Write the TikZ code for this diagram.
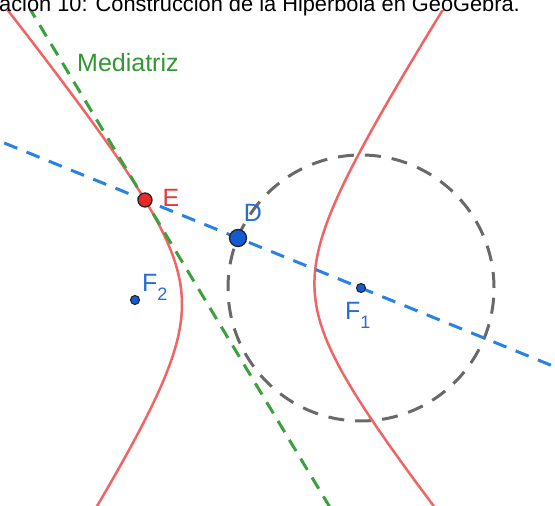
\documentclass[tikz,border=0pt]{standalone}
\usepackage{fontspec}
\setmainfont{Liberation Sans}
\usetikzlibrary{calc}
\definecolor{hypred}{RGB}{240,100,100}
\definecolor{medgreen}{RGB}{60,160,60}
\definecolor{lineblue}{RGB}{40,130,230}
\definecolor{circgray}{RGB}{105,105,105}
\definecolor{labred}{RGB}{225,60,60}
\definecolor{labblue}{RGB}{40,110,210}
\definecolor{labgreen}{RGB}{50,150,50}
\definecolor{ptblue}{RGB}{20,90,210}
\definecolor{ptred}{RGB}{235,40,40}
\tikzset{
  dashline/.style={line width=3pt, dash pattern=on 14pt off 10pt},
  hyp/.style={hypred, line width=2.5pt},
  ptsmall/.style={circle, fill=ptblue, draw=black!85, line width=1.1pt, inner sep=0pt, minimum size=9pt},
  ptbig/.style={circle, draw=black!85, line width=1.3pt, inner sep=0pt, minimum size=15pt},
  lab/.style={inner sep=0pt, font=\fontsize{25}{28}\selectfont},
}
\begin{document}
\begin{tikzpicture}[x=1pt,y=1pt]
\useasboundingbox (0,0) rectangle (555,506);
% points
\coordinate (F1) at (361,218);
\coordinate (F2) at (135,206);
\coordinate (D) at (238,268);
\coordinate (E) at (145,306);
\coordinate (M) at ($(D)!0.5!(F2)$);
\coordinate (g1) at ($(M)!5.1!90:(D)$);
\coordinate (g2) at ($(M)!-4.7!90:(D)$);
\coordinate (b1) at ($(F1)!2.9!(D)$);
\coordinate (b2) at ($(D)!2.7!(F1)$);
\begin{scope}
\clip (0,0) rectangle (555,495);
% circle
\draw[circgray, dashline, dash pattern=on 16pt off 11pt] (F1) circle[radius=133];
% hyperbola
\begin{scope}[shift={(248.2,212)}, rotate=3.04]
  \draw[hyp] plot[domain=-2.2:2.2, samples=120, smooth] ({-66.5*cosh(\x)}, {91.6*sinh(\x)});
  \draw[hyp] plot[domain=-2.2:2.2, samples=120, smooth] ({66.5*cosh(\x)}, {91.6*sinh(\x)});
\end{scope}
% perpendicular bisector
\draw[medgreen, dashline, dash pattern=on 13pt off 9pt] (g1) -- (g2);
% line through F1 and D
\draw[lineblue, dashline] (b1) -- (b2);
\end{scope}
% point markers
\node[ptsmall] (pF1) at (F1) {};
\node[ptsmall] (pF2) at (F2) {};
\node[ptbig, fill=ptblue, minimum size=17pt] (pD) at (D) {};
\node[ptbig, fill=ptred, minimum size=14pt] (pE) at (E) {};
% labels
\node[lab, text=labred] (lE) at (171,308) {E};
\node[lab, text=labblue] (lD) at (253,293) {D};
\node[lab, text=labblue, anchor=base west] (lF2) at (142,214) {F\raisebox{-0.33em}{\fontsize{18}{18}\selectfont 2}};
\node[lab, text=labblue, anchor=base west] (lF1) at (345,186) {F\raisebox{-0.33em}{\fontsize{18}{18}\selectfont 1}};
\node[lab, text=labgreen, anchor=base west] (lM) at (77,434) {Mediatriz};
% title (clipped at top, as in the reference)
\node[inner sep=0pt, anchor=base west, font=\fontsize{21.8}{24}\selectfont] (title) at (-1,494) {ación 10: Construcción de la Hipérbola en GeoGebra.};
\end{tikzpicture}
\end{document}
